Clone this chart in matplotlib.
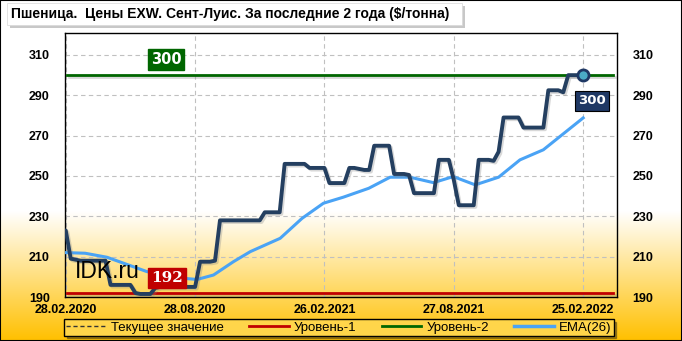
import numpy as np
import matplotlib
matplotlib.use("Agg")
import matplotlib.pyplot as plt
import matplotlib.patheffects as pe
from matplotlib.patches import Rectangle
from matplotlib.lines import Line2D

# --- данные (недели от 28.02.2020) ---
price = [223, 209, 208.5, 208, 208, 208, 208, 208, 208,
         196, 196, 196, 196, 196, 192, 191.5, 191.5, 191.5, 194.5,
         195, 195, 195, 195, 195, 195, 195, 195,
         207.5, 207.5, 207.5, 208,
         228, 228, 228, 228, 228, 228, 228, 228, 228,
         232, 232, 232, 232,
         256, 256, 256, 256, 256,
         254, 254, 254, 254,
         246.5, 246.5, 246.5, 246.5,
         254, 254, 253.5, 253, 253,
         265, 265, 265, 265,
         251, 251, 251, 250.5,
         241.5, 241.5, 241.5, 241.5, 241.5,
         258, 258, 258, 248,
         235.5, 235.5, 235.5, 235.5,
         258, 258, 258, 257.5, 262,
         279, 279, 279, 279,
         274, 274, 274, 274, 274,
         292.5, 292.5, 292.5, 291.5,
         300, 300, 300, 300]
weeks = np.arange(len(price))

ema_weeks = [0, 3.9, 8.3, 16.3, 24, 26.4, 29.7, 33.7, 37.1, 43.1, 47.5, 51.8,
             55.8, 60.9, 65.2, 69.2, 73.9, 77.9, 82.3, 87, 91.3, 96, 104]
ema_vals = [212, 211.7, 209.7, 202.6, 199.2, 198.7, 200.9, 207.5, 212.5, 219.1,
            229, 236.5, 239.5, 243.9, 249.4, 249.4, 246.7, 249.7, 245.6, 249.4,
            258, 263, 278.8]

level1 = 192
level2 = 300
current = 300

xtick_pos = [0, 26, 52, 78, 104]
xtick_labels = ['28.02.2020', '28.08.2020', '26.02.2021', '27.08.2021', '25.02.2022']
ytick_vals = [190, 210, 230, 250, 270, 290, 310]

title = 'Пшеница.  Цены EXW. Сент-Луис. За последние 2 года ($/тонна)'

navy = '#243F60'
blue = '#4AA3F5'
red = '#C00000'
green = '#006600'

fig = plt.figure(figsize=(6.82, 3.41), dpi=100)

# фон - градиент
bg = fig.add_axes([0, 0, 1, 1], zorder=-10)
bg.set_axis_off()
h = 341
grad = np.ones((h, 1, 3))
for r in range(h):
    f = r / (h - 1)  # 0 сверху, 1 снизу
    t = max(0.0, (f - 0.62) / 0.38)
    grad[r, 0] = (1.0, 1.0 - t * (1 - 192 / 255), 1.0 - t)
bg.imshow(grad, aspect='auto', extent=[0, 1, 0, 1])
bg.set_xlim(0, 1)
bg.set_ylim(0, 1)

ax = fig.add_axes([65 / 682, 1 - 297 / 341, 552 / 682, 264 / 341])
ax.patch.set_alpha(0)
ax.set_xlim(-0.15, 110.8)
ax.set_ylim(190, 320.9)

shadow = [pe.SimpleLineShadow(offset=(1.2, -1.2), shadow_color='gray', alpha=0.3), pe.Normal()]

ax.grid(True, color='#C0C0C0', linestyle=(0, (4, 3)), linewidth=0.8)
ax.set_axisbelow(True)

ax.plot([0.3, 110], [level1, level1], color=red, lw=2, path_effects=shadow, zorder=3)
ax.plot([0.3, 110], [level2, level2], color=green, lw=2, path_effects=shadow, zorder=3)
ax.plot(ema_weeks, ema_vals, color=blue, lw=2.2, zorder=4, solid_joinstyle='round')
ax.plot(weeks, price, color=navy, lw=2.8, zorder=5, solid_joinstyle='round',
        solid_capstyle='round', path_effects=shadow)
ax.plot([weeks[-1]], [current], 'o', ms=8, mfc='#4BACC6', mec='#1F3864', mew=2, zorder=6)

ax.set_xticks(xtick_pos)
ax.set_xticklabels(xtick_labels)
ax.set_yticks(ytick_vals)
ax.tick_params(length=0, labelsize=9)
ax.tick_params(axis='x', pad=5)
ax.tick_params(axis='y', pad=11, labelright=True)
for tk in ax.xaxis.get_major_ticks() + ax.yaxis.get_major_ticks():
    for lab in (tk.label1, tk.label2):
        lab.set_fontweight('bold')
        lab.set_family('Liberation Sans')
for sp in ax.spines.values():
    sp.set_color('black')
    sp.set_linewidth(1)

# подписи уровней
ax.text(20.2, 307.8, '300', color='white', fontsize=10.5, fontweight='bold',
        ha='center', va='center', family='DejaVu Sans',
        bbox=dict(boxstyle='square,pad=0.2', fc=green, ec=green), zorder=7)
ax.text(20.3, 199.4, '192', color='white', fontsize=11, fontweight='bold',
        ha='center', va='center', family='DejaVu Serif',
        bbox=dict(boxstyle='square,pad=0.2', fc=red, ec=red), zorder=7)
ax.text(105.8, 287.3, '300', color='white', fontsize=9.5, fontweight='bold',
        ha='center', va='center', family='DejaVu Sans',
        bbox=dict(boxstyle='square,pad=0.25', fc='#1F3864', ec='black', lw=0.8), zorder=7)
ax.text(8.4, 202.4, 'IDK.ru', color='black', fontsize=16.5, ha='center', va='center',
        family='Liberation Sans', zorder=6)

# заголовок
fig.patches.append(Rectangle((10 / 682, 1 - 28 / 341), 455 / 682, 22 / 341,
                             transform=fig.transFigure, fc='#C8C8C8', ec='none', zorder=1))
fig.patches.append(Rectangle((7 / 682, 1 - 25 / 341), 455 / 682, 22 / 341,
                             transform=fig.transFigure, fc='white', ec='#D8D8D8', lw=0.5, zorder=2))
fig.text(11 / 682, 1 - 14 / 341, title, fontsize=10, fontweight='bold',
         family='Liberation Sans', ha='left', va='center', zorder=3)

# легенда
handles = [Line2D([], [], color='#333333', lw=1, linestyle=(0, (3, 2))),
           Line2D([], [], color=red, lw=2),
           Line2D([], [], color=green, lw=2),
           Line2D([], [], color=blue, lw=2.5)]
labels = ['Текущее значение', 'Уровень-1', 'Уровень-2', 'EMA(26)']
leg = fig.legend(handles, labels, ncol=4, loc='center',
                 bbox_to_anchor=(339 / 682, 1 - 327.5 / 341),
                 frameon=True, fancybox=False, shadow=True,
                 handlelength=3, columnspacing=1.9, borderpad=0.15, handletextpad=0.4,
                 borderaxespad=0, prop={'family': 'Liberation Sans', 'size': 9.5})
leg.get_frame().set_facecolor('#FFD54A')
leg.get_frame().set_edgecolor('black')
leg.get_frame().set_linewidth(1)

# рамка
fig.patches.append(Rectangle((0, 0), 1, 1, transform=fig.transFigure, fill=False,
                             ec='black', lw=1.5, zorder=10))

fig.savefig('out.png', dpi=100)
